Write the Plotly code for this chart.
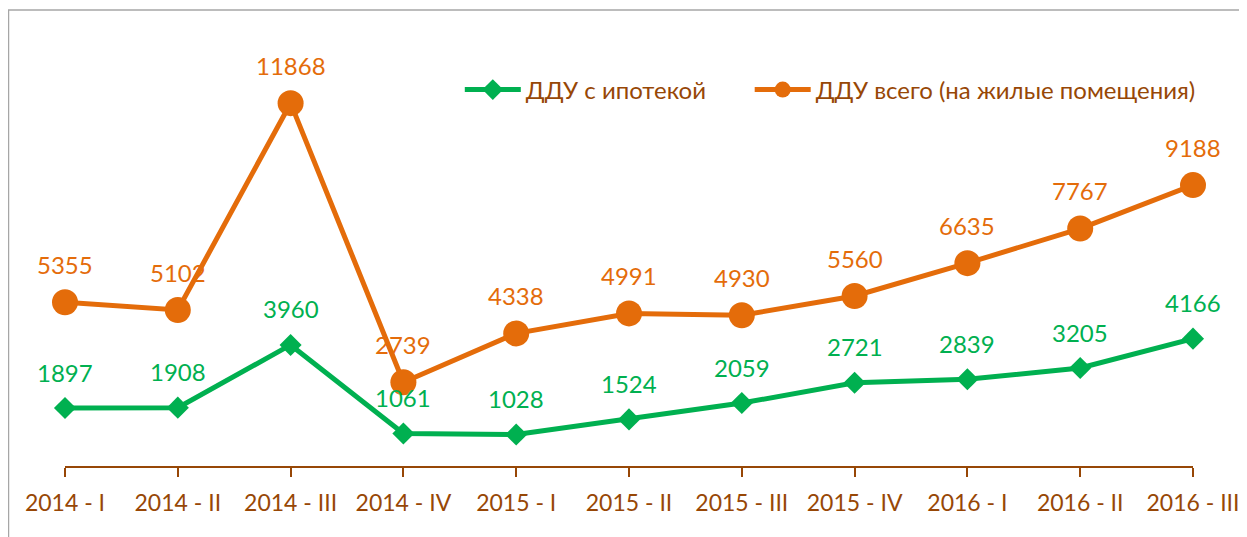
import plotly.graph_objects as go

quarters = ["2014 - I", "2014 - II", "2014 - III", "2014 - IV", "2015 - I", "2015 - II",
            "2015 - III", "2015 - IV", "2016 - I", "2016 - II", "2016 - III"]
ddu_mortgage = [1897, 1908, 3960, 1061, 1028, 1524, 2059, 2721, 2839, 3205, 4166]
ddu_total = [5355, 5102, 11868, 2739, 4338, 4991, 4930, 5560, 6635, 7767, 9188]

GREEN = "#00B050"
ORANGE = "#E46C0A"
BROWN = "#974706"
FONT = "Lato, 'Open Sans', sans-serif"

fig = go.Figure()

fig.add_trace(go.Scatter(
    x=quarters, y=ddu_mortgage, name="ДДУ с ипотекой",
    mode="lines+markers",
    line=dict(color=GREEN, width=5),
    marker=dict(symbol="diamond", size=17, color=GREEN),
    cliponaxis=False, legend="legend",
))
fig.add_trace(go.Scatter(
    x=quarters, y=ddu_total, name="ДДУ всего (на жилые помещения)",
    mode="lines+markers",
    line=dict(color=ORANGE, width=5),
    marker=dict(symbol="circle", size=26, color=ORANGE),
    cliponaxis=False, legend="legend2",
))

# data labels above the points
for q, v in zip(quarters, ddu_mortgage):
    fig.add_annotation(x=q, y=v, text=str(v), showarrow=False, yshift=36,
                       font=dict(color=GREEN, size=24, family=FONT))
for q, v in zip(quarters, ddu_total):
    fig.add_annotation(x=q, y=v, text=str(v), showarrow=False, yshift=38,
                       font=dict(color=ORANGE, size=24, family=FONT))

# outer chart frame (partly outside the view)
fig.add_shape(type="rect", xref="paper", yref="paper",
              x0=-0.0501, x1=1.3, y0=-0.4, y1=1.0654,
              line=dict(color="#A6A6A6", width=1.5), layer="below")

legend_style = dict(orientation="h", y=0.8785, xanchor="left", yanchor="middle",
                    font=dict(size=24, color=BROWN), bgcolor="rgba(0,0,0,0)",
                    itemwidth=56)

# page body has an 8px margin, so the figure is 8px smaller than the window
fig.update_layout(
    width=1239, height=529,
    margin=dict(l=57, r=54, t=30, b=71),
    plot_bgcolor="white", paper_bgcolor="white",
    font=dict(family=FONT, color=BROWN, size=23),
    showlegend=True,
    legend=dict(x=0.350, **legend_style),
    legend2=dict(x=0.607, **legend_style),
    xaxis=dict(
        type="category", range=[0, 10], showgrid=False, automargin=False,
        showline=True, linecolor=BROWN, linewidth=2,
        ticks="outside", ticklen=9, tickcolor=BROWN, tickwidth=2,
        tickfont=dict(size=23, color=BROWN), ticklabelstandoff=6,
    ),
    yaxis=dict(range=[0, 14000], visible=False, showgrid=False, zeroline=False,
               automargin=False),
)

fig.write_html("out.html")
